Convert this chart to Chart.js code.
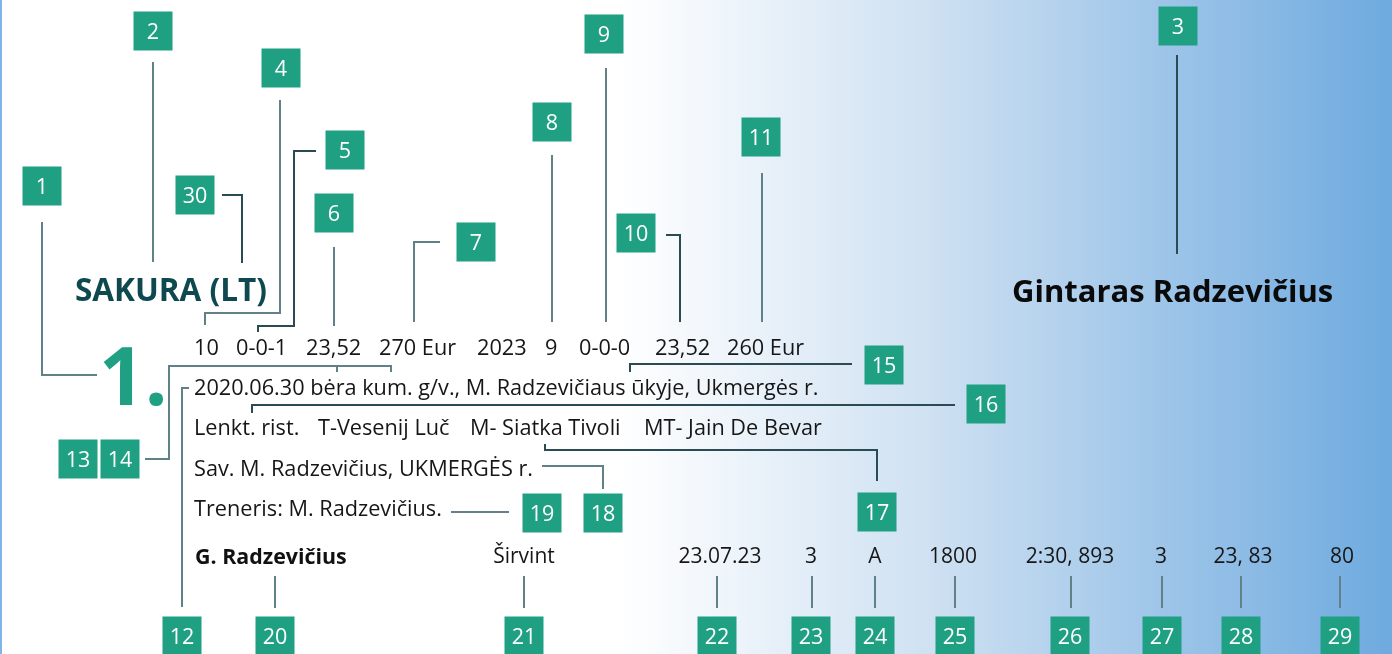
<!DOCTYPE html>
<html>
<head>
<meta charset="utf-8">
<script src="https://cdn.jsdelivr.net/npm/chart.js@4.4.1/dist/chart.umd.min.js"></script>
<style>
    html, body { margin: 0; padding: 0; background: #fff; }
    #wrap { width: 1392px; height: 654px; position: relative; }
</style>
</head>
<body>
<div id="wrap"><canvas id="chart"></canvas></div>
<script>
// numbered callout boxes
const markerLabels = ['1', '2', '3', '4', '5', '6', '7', '8', '9', '10', '11', '12', '13', '14', '15',
    '16', '17', '18', '19', '20', '21', '22', '23', '24', '25', '26', '27', '28', '29', '30'];
const markerX = [42, 153, 1178, 281, 345, 334, 476, 552, 604, 636, 761, 182, 78, 120, 884,
    986, 877, 603, 542, 275, 524, 717, 811, 875, 955, 1070, 1162, 1241, 1340, 195];
const markerY = [186, 31, 26, 68, 150, 213, 242, 122, 34, 233, 137, 636, 459, 459, 365,
    404, 512, 513, 513, 636, 636, 636, 636, 636, 636, 636, 636, 636, 636, 195];

// leader lines, one polyline per callout
const leaderIds = ['1', '2', '30', '4', '5', '6', '7', '8', '9', '10', '11', '3', '13', '13b', '12',
    '15', '16', '17', '18', '19', '20', '21', '22', '23', '24', '25', '26', '27', '28', '29'];
const leaderPaths = [
    [[42, 222], [42, 375], [97, 375]],
    [[153, 62], [153, 262]],
    [[222, 195], [242, 195], [242, 263]],
    [[280, 100], [280, 313], [205, 313], [205, 325]],
    [[316, 151], [294, 151], [294, 326], [258, 326], [258, 332]],
    [[334, 247], [334, 326]],
    [[440, 242], [414, 242], [414, 322]],
    [[552, 155], [552, 322]],
    [[606, 68], [606, 322]],
    [[666, 235], [680, 235], [680, 322]],
    [[762, 173], [762, 322]],
    [[1177, 55], [1177, 254]],
    [[145, 459], [169, 459], [169, 366], [391, 366], [391, 372]],
    [[337, 366], [337, 372]],
    [[182, 607], [182, 388], [189, 388]],
    [[852, 364], [630, 364], [630, 372]],
    [[955, 405], [252, 405], [252, 413]],
    [[877, 481], [877, 450], [545, 450], [545, 444]],
    [[542, 466], [603, 466], [603, 489]],
    [[451, 512], [509, 512]],
    [[275, 576], [275, 608]],
    [[524, 576], [524, 608]],
    [[717, 576], [717, 608]],
    [[812, 576], [812, 608]],
    [[875, 576], [875, 608]],
    [[955, 576], [955, 608]],
    [[1071, 576], [1071, 608]],
    [[1162, 576], [1162, 608]],
    [[1241, 576], [1241, 608]],
    [[1340, 576], [1340, 608]]
];
const darkLeaders = ['3', '30', '5', '15', '16', '17', '10'];

// entry texts
const textLabels = ['SAKURA (LT)', '1.', 'Gintaras Radzevičius',
    '10', '0-0-1', '23,52', '270 Eur', '2023', '9', '0-0-0', '23,52', '260 Eur',
    '2020.06.30 bėra kum. g/v., M. Radzevičiaus ūkyje, Ukmergės r.',
    'Lenkt. rist.', 'T-Vesenij Luč', 'M- Siatka Tivoli', 'MT- Jain De Bevar',
    'Sav. M. Radzevičius, UKMERGĖS r.',
    'Treneris: M. Radzevičius.',
    'G. Radzevičius', 'Širvint', '23.07.23', '3', 'A', '1800', '2:30, 893', '3', '23, 83', '80'];
const textX = [75, 99, 1012,
    194, 236, 306, 379, 477, 545, 579, 655, 727,
    194,
    194, 318, 470, 644,
    194,
    194,
    195, 524, 720, 811, 875, 953, 1070, 1161, 1243, 1342];
const textY = [301, 405, 302,
    355, 355, 355, 355, 355, 355, 355, 355, 355,
    395,
    435, 435, 435, 435,
    476,
    516,
    564, 563, 563, 563, 563, 563, 563, 563, 563, 563];
const textKind = ['title', 'number', 'owner',
    'body', 'body', 'body', 'body', 'body', 'body', 'body', 'body', 'body',
    'body',
    'body', 'body', 'body', 'body',
    'body',
    'body',
    'driver', 'center', 'center', 'center', 'center', 'center', 'center', 'center', 'center', 'center'];

const FONT = '"Open Sans", "Noto Sans", sans-serif';
const styles = {
    title: { font: `bold 31.5px ${FONT}`, color: '#0f4950', align: 'left' },
    number: { font: `bold 80px ${FONT}`, color: '#1fa083', align: 'left' },
    owner: { font: `bold 31px ${FONT}`, color: '#0a0a0a', align: 'left' },
    body: { font: `21.7px ${FONT}`, color: '#161616', align: 'left' },
    driver: { font: `bold 21.4px ${FONT}`, color: '#111111', align: 'left' },
    center: { font: `21px ${FONT}`, color: '#161616', align: 'center' }
};

const backdrop = {
    id: 'backdrop',
    beforeDraw: (chart) => {
        const { ctx, width, height, scales: { x } } = chart;
        const g = ctx.createLinearGradient(x.getPixelForValue(0), 0, x.getPixelForValue(1392), 0);
        g.addColorStop(0, '#ffffff');
        g.addColorStop(620 / 1392, '#ffffff');
        g.addColorStop(928 / 1392, '#cfe1f2');
        g.addColorStop(1, '#6eaadf');
        ctx.save();
        ctx.fillStyle = g;
        ctx.fillRect(0, 0, width, height);
        // thin blue rule on the left edge
        ctx.fillStyle = '#7fb4e8';
        ctx.fillRect(0, 0, 2, height);
        ctx.restore();
    }
};

const labels = {
    id: 'labels',
    afterDatasetsDraw: (chart) => {
        const { ctx, scales: { x, y } } = chart;
        ctx.save();
        ctx.textBaseline = 'alphabetic';

        // numbers inside the boxes
        ctx.font = `21.5px ${FONT}`;
        ctx.fillStyle = '#ffffff';
        ctx.textAlign = 'center';
        markerLabels.forEach((lbl, i) => {
            ctx.fillText(lbl, x.getPixelForValue(markerX[i]), y.getPixelForValue(markerY[i]) + 8);
        });

        textLabels.forEach((t, i) => {
            const s = styles[textKind[i]];
            ctx.font = s.font;
            ctx.fillStyle = s.color;
            ctx.textAlign = s.align;
            ctx.fillText(t, x.getPixelForValue(textX[i]), y.getPixelForValue(textY[i]));
        });
        ctx.restore();
    }
};

const leaderSets = leaderPaths.map((path, i) => ({
    type: 'scatter',
    data: path.map(p => ({ x: p[0], y: p[1] })),
    showLine: true,
    borderColor: darkLeaders.includes(leaderIds[i]) ? '#2a4a54' : '#5f8187',
    borderWidth: 2,
    pointRadius: 0,
    tension: 0,
    fill: false
}));

new Chart(document.getElementById('chart'), {
    type: 'scatter',
    data: {
        datasets: [
            ...leaderSets,
            {
                data: markerLabels.map((l, i) => ({ x: markerX[i], y: markerY[i] })),
                pointStyle: 'rect',
                pointRadius: 39 / Math.SQRT2,
                pointHoverRadius: 39 / Math.SQRT2,
                backgroundColor: '#1fa083',
                borderWidth: 0,
                pointBorderWidth: 0
            }
        ]
    },
    options: {
        responsive: true,
        maintainAspectRatio: false,
        animation: false,
        events: [],
        layout: { padding: 0, autoPadding: false },
        plugins: { legend: { display: false }, tooltip: { enabled: false } },
        scales: {
            x: { type: 'linear', min: 0, max: 1392, display: false },
            y: { type: 'linear', min: 0, max: 654, reverse: true, display: false }
        }
    },
    plugins: [backdrop, labels]
});
</script>
</body>
</html>
